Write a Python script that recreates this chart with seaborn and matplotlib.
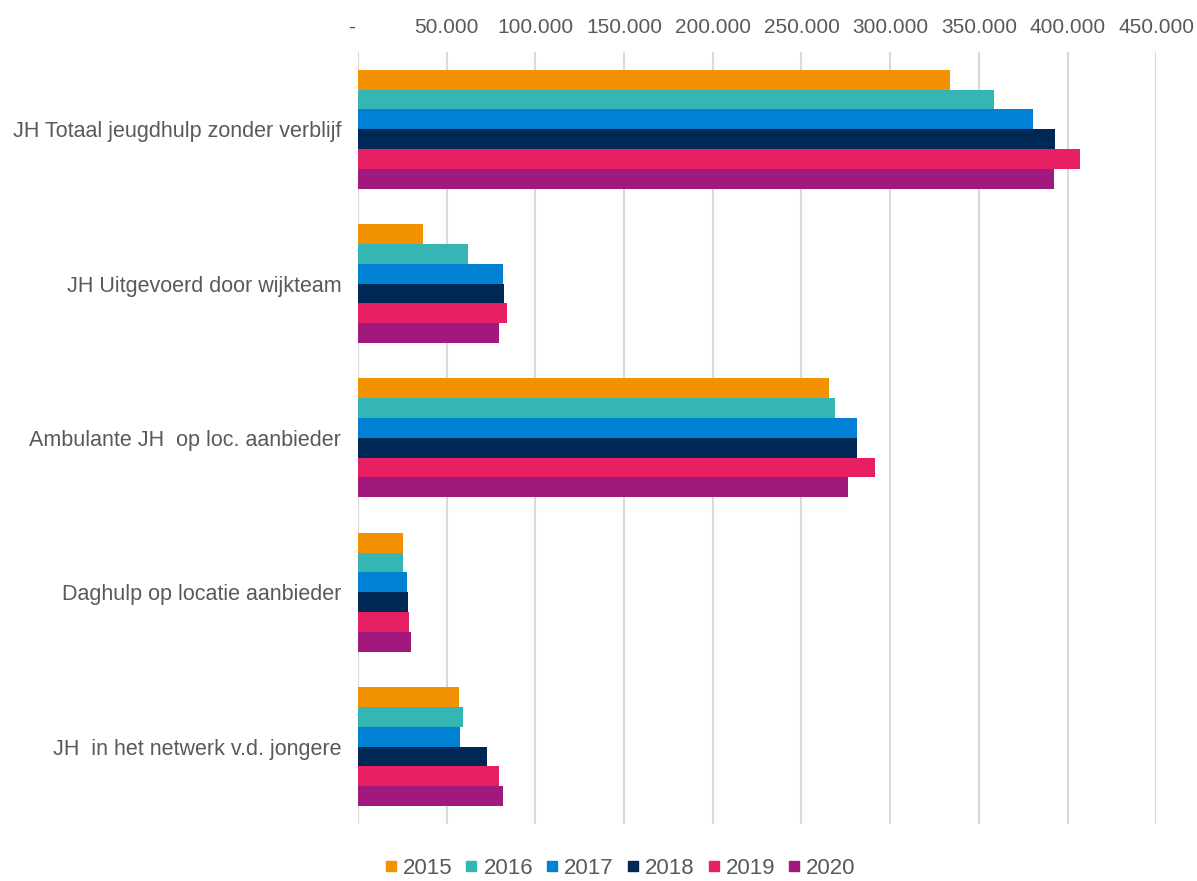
import pandas as pd
import numpy as np
import matplotlib.pyplot as plt
import seaborn as sns
from matplotlib.ticker import FuncFormatter
from matplotlib.lines import Line2D

# Data
categories = [
    "JH Totaal jeugdhulp zonder verblijf",
    "JH Uitgevoerd door wijkteam",
    "Ambulante JH  op loc. aanbieder",
    "Daghulp op locatie aanbieder",
    "JH  in het netwerk v.d. jongere",
]
years = ["2015", "2016", "2017", "2018", "2019", "2020"]

v2015 = [333500, 36800, 265300, 25200, 57100]
v2016 = [358800, 62200, 268900, 25200, 59200]
v2017 = [380700, 81600, 281300, 27500, 57700]
v2018 = [393000, 82500, 281300, 28400, 72900]
v2019 = [406800, 83900, 291400, 28900, 79500]
v2020 = [392100, 79500, 276200, 29700, 81600]

colors = ["#F39200", "#35B6B4", "#0081D3", "#002855", "#E72064", "#A2197E"]

# Long table for seaborn
series = [v2015, v2016, v2017, v2018, v2019, v2020]
rows = []
for year, vals in zip(years, series):
    for cat, v in zip(categories, vals):
        rows.append({"categorie": cat, "jaar": year, "aantal": v})
df = pd.DataFrame(rows)

sns.set_style("white")
plt.rcParams['font.family'] = ['Liberation Sans', 'DejaVu Sans']

fig = plt.figure(figsize=(11.97, 8.81), dpi=100)
ax = fig.add_axes([0.299, 0.065, 0.667, 0.876])

sns.barplot(data=df, y="categorie", x="aantal", hue="jaar", orient="h",
            palette=colors, width=0.77, saturation=1, linewidth=0,
            ax=ax, legend=False)

ax.set_xlim(0, 450000)
ax.set_xticks(np.arange(0, 450001, 50000))
# accounting style: zero shown as a dash
ax.xaxis.set_major_formatter(FuncFormatter(
    lambda x, p: "-  " if x == 0 else f"{int(x):,}".replace(",", ".")))
ax.xaxis.tick_top()
ax.grid(axis="x", color="#D9D9D9", linewidth=1.5)
ax.set_axisbelow(True)
for s in ax.spines.values():
    s.set_visible(False)
ax.set_xlabel("")
ax.set_ylabel("")
ax.tick_params(axis="x", length=0, pad=11, labelsize=15, labelcolor="#595959")
ax.tick_params(axis="y", length=0, pad=12, labelsize=15.5, labelcolor="#595959")

handles = [Line2D([], [], marker="s", linestyle="", markersize=7,
                  markerfacecolor=c, markeredgecolor=c) for c in colors]
fig.legend(handles, years, loc="lower center", ncol=6, frameon=False,
           bbox_to_anchor=(0.516, -0.02), fontsize=16, handletextpad=0.05,
           handlelength=1.0, columnspacing=0.35, labelcolor="#595959")

fig.savefig("out.png", dpi=100)
